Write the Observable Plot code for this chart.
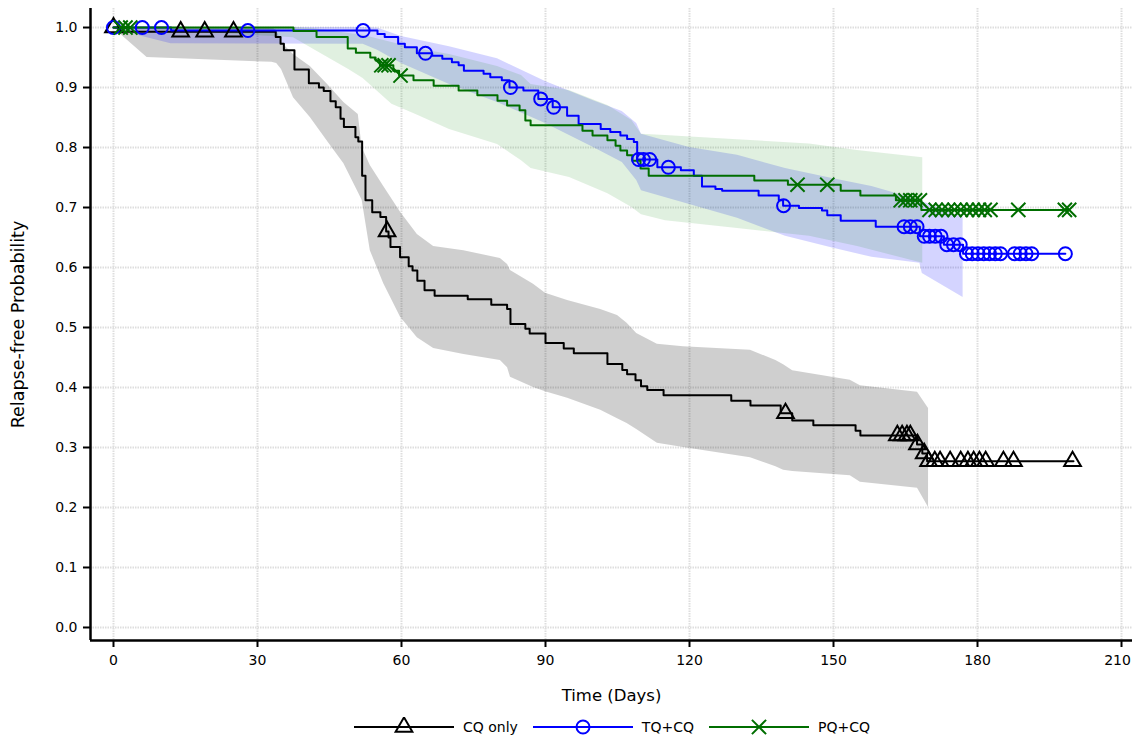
<!DOCTYPE html>
<html>
<head>
<meta charset="utf-8">
<script src="https://cdn.jsdelivr.net/npm/d3@7"></script>
<script src="https://cdn.jsdelivr.net/npm/@observablehq/plot@0.6"></script>
<style>
  body { margin: 0; background: #fff; font-family: "DejaVu Sans", sans-serif; overflow: hidden; }
  #chart { width: 1132px; height: 712px; }
  #legend { height: 30px; display: flex; align-items: center; padding-left: 354px; font-size: 14px; color: #000; }
  .item { display: flex; align-items: center; margin-right: 15px; }
  .item svg { margin-right: 9px; }
</style>
</head>
<body>
<div id="chart"></div>
<div id="legend"></div>
<script>
// ---- data ----
const groups = ["CQ only", "TQ+CQ", "PQ+CQ"];
const colors = ["#000000", "#0000ff", "#006e00"];
const bandColors = ["#000000", "#0000ff", "#008000"];
const bandOpacity = [0.19, 0.17, 0.12];
const symbols = ["triangle", "circle", "times"];

const xTicks = [0, 30, 60, 90, 120, 150, 180, 210];
const yTicks = [0, 0.1, 0.2, 0.3, 0.4, 0.5, 0.6, 0.7, 0.8, 0.9, 1.0];

// CQ only: step times and survival
const cqTimes = [0, 1, 33.8, 34.8, 35.5, 37.7, 40.7, 42.8, 43.8, 45.2, 46.3, 47.3, 48, 50.4, 51, 51.8, 52.5, 53.9, 55.6, 56.8, 57.3, 57.7, 59.7, 61.5, 62.3, 63.3, 64.8, 66.9, 73.8, 78.7, 82, 82.7, 85.8, 86.7, 90, 93.8, 95.9, 102.9, 106, 107, 108.75, 109.9, 111.2, 114.6, 128.7, 132.7, 139, 141.4, 145.8, 154.6, 155.6, 167.4, 168.5, 169.5, 200];
const cqSurv = [1, 0.993, 0.984, 0.973, 0.962, 0.93, 0.907, 0.9, 0.894, 0.877, 0.867, 0.848, 0.834, 0.817, 0.81, 0.753, 0.712, 0.692, 0.684, 0.66, 0.65, 0.634, 0.617, 0.602, 0.595, 0.578, 0.562, 0.553, 0.547, 0.538, 0.531, 0.506, 0.498, 0.49, 0.474, 0.465, 0.457, 0.439, 0.429, 0.422, 0.412, 0.402, 0.396, 0.387, 0.378, 0.37, 0.357, 0.345, 0.337, 0.328, 0.32, 0.305, 0.29, 0.277, 0.277];
const cqCensor = [0, 14, 19, 25, 57, 140, 163.3, 164.3, 165.3, 166, 167.5, 168.9, 169.8, 171.1, 172.2, 174.3, 176.5, 178, 179.2, 180.4, 181.7, 185.4, 187.5, 199.8];

// TQ+CQ
const tqTimes = [0, 12, 55, 56.5, 59.3, 60.7, 63.2, 66.4, 68.5, 70.5, 71.9, 73, 77.1, 78.5, 80.9, 82.5, 85.4, 88.5, 91.5, 94.5, 96.9, 101.5, 103.5, 105.6, 107, 108.4, 109.1, 113.3, 118.2, 120.9, 122.6, 125.4, 126.8, 134.4, 138.6, 139.5, 142.8, 147.6, 148.7, 151.5, 158.8, 168, 173, 177, 198.3];
const tqSurv = [1, 0.995, 0.989, 0.984, 0.973, 0.967, 0.957, 0.953, 0.948, 0.942, 0.937, 0.928, 0.923, 0.917, 0.912, 0.9, 0.895, 0.881, 0.867, 0.853, 0.839, 0.831, 0.826, 0.82, 0.814, 0.809, 0.78, 0.767, 0.762, 0.753, 0.735, 0.731, 0.728, 0.72, 0.712, 0.703, 0.699, 0.695, 0.687, 0.678, 0.668, 0.652, 0.638, 0.623, 0.623];
const tqCensor = [0, 6, 10, 28, 52, 65, 82.7, 89, 91.7, 109.4, 110.4, 111.7, 115.6, 139.6, 164.7, 166, 167.4, 168.9, 170, 171.2, 172.4, 173.6, 175, 176.4, 177.7, 178.9, 180.1, 181.3, 182.5, 183.7, 184.8, 187.7, 188.9, 190.1, 191.3, 198.3];

// PQ+CQ
const pqTimes = [0, 37.5, 42.3, 48.8, 50.5, 53.5, 54.6, 55.5, 58.3, 59.5, 62.5, 66.7, 71.9, 75.8, 80, 82, 84.6, 85.8, 86.9, 97.7, 99.8, 102.9, 104.6, 105.6, 107, 108.1, 109.8, 111.5, 133.5, 140.5, 151.5, 155.6, 163, 168.3, 199.1];
const pqSurv = [1, 0.994, 0.984, 0.965, 0.958, 0.95, 0.945, 0.937, 0.928, 0.92, 0.912, 0.903, 0.895, 0.887, 0.878, 0.87, 0.862, 0.845, 0.837, 0.828, 0.82, 0.812, 0.803, 0.795, 0.787, 0.778, 0.765, 0.753, 0.745, 0.738, 0.728, 0.72, 0.712, 0.696, 0.696];
const pqCensor = [1.5, 2.5, 3.5, 55.8, 56.5, 57.3, 59.8, 142.5, 148.7, 164, 165, 166, 167, 168, 170, 171.3, 172.6, 173.9, 175.2, 176.5, 177.8, 179, 180.3, 181.5, 182.7, 188.5, 198.2, 199.1];

// confidence bands
const cqBandDay = [0, 2, 7, 33, 34, 35, 37.5, 41, 44.6, 48, 51, 51.8, 53.5, 56.3, 59.8, 63.3, 66.7, 73, 80.6, 82.1, 82.7, 87.5, 90, 94.6, 101.5, 105, 107, 109, 113.3, 118.75, 132.7, 138, 139.6, 141.5, 153.5, 155.6, 167.5, 169.8];
const cqBandLo = [1, 0.985, 0.95, 0.942, 0.94, 0.93, 0.883, 0.85, 0.81, 0.773, 0.725, 0.712, 0.628, 0.573, 0.517, 0.483, 0.465, 0.455, 0.445, 0.433, 0.417, 0.4, 0.393, 0.382, 0.362, 0.348, 0.34, 0.33, 0.307, 0.3, 0.283, 0.268, 0.262, 0.26, 0.253, 0.242, 0.232, 0.2];
const cqBandHi = [1, 1, 1, 1, 0.995, 0.975, 0.955, 0.935, 0.905, 0.875, 0.855, 0.8, 0.77, 0.735, 0.692, 0.655, 0.635, 0.628, 0.615, 0.605, 0.595, 0.572, 0.557, 0.545, 0.53, 0.52, 0.507, 0.49, 0.472, 0.468, 0.462, 0.445, 0.438, 0.428, 0.412, 0.403, 0.392, 0.365];

const tqBandDay = [0, 6, 12, 52, 55, 60, 70, 80, 90, 100, 106, 109, 110, 120, 130, 140, 150, 158, 168, 168.5, 177];
const tqBandLo = [1, 0.985, 0.973, 0.972, 0.962, 0.94, 0.905, 0.875, 0.84, 0.8, 0.775, 0.745, 0.728, 0.705, 0.682, 0.652, 0.632, 0.617, 0.607, 0.59, 0.55];
const tqBandHi = [1, 1, 1, 1, 0.999, 0.985, 0.968, 0.948, 0.91, 0.878, 0.86, 0.84, 0.822, 0.8, 0.787, 0.765, 0.748, 0.735, 0.712, 0.71, 0.683];

const pqBandDay = [0, 37.5, 42, 49, 52, 55.5, 58, 63, 70, 80, 85, 87, 95, 103, 108, 110, 115, 130, 145, 155, 168.6];
const pqBandLo = [1, 0.983, 0.962, 0.93, 0.915, 0.89, 0.872, 0.855, 0.83, 0.805, 0.778, 0.765, 0.75, 0.723, 0.7, 0.688, 0.678, 0.665, 0.652, 0.635, 0.607];
const pqBandHi = [1, 1, 0.998, 0.99, 0.987, 0.98, 0.975, 0.965, 0.955, 0.935, 0.92, 0.905, 0.895, 0.87, 0.845, 0.822, 0.82, 0.813, 0.806, 0.795, 0.783];

// ---- build tables ----
const stepSets = [[cqTimes, cqSurv], [tqTimes, tqSurv], [pqTimes, pqSurv]];
const censorSets = [cqCensor, tqCensor, pqCensor];
const bandSets = [[cqBandDay, cqBandLo, cqBandHi], [tqBandDay, tqBandLo, tqBandHi], [pqBandDay, pqBandLo, pqBandHi]];

function survAt(times, surv, t) {
  const i = d3.bisectRight(times, t) - 1;
  return surv[Math.max(0, i)];
}

const xDomain = [-4.79, 212.29];
const yDomain = [-0.0217, 1.0317];

const gridStyle = {stroke: "#dedede", strokeOpacity: 1, strokeWidth: 2, strokeDasharray: "1.5,1"};
const marks = [
  Plot.gridX(xTicks, gridStyle),
  Plot.gridY(yTicks, gridStyle)
];
bandSets.forEach(([d, lo, hi], g) => {
  const rows = d.map((t, i) => ({day: t, lo: lo[i], hi: hi[i]}));
  marks.push(Plot.areaY(rows, {x: "day", y1: "lo", y2: "hi", fill: bandColors[g], fillOpacity: bandOpacity[g], curve: "linear"}));
});
stepSets.forEach(([t, s], g) => {
  const rows = t.map((v, i) => ({day: v, s: s[i]}));
  marks.push(Plot.line(rows, {x: "day", y: "s", stroke: colors[g], strokeWidth: 2, curve: "step-after"}));
});
censorSets.forEach((c, g) => {
  const [t, s] = stepSets[g];
  const rows = c.map(v => ({day: v, s: survAt(t, s, v)}));
  marks.push(Plot.dot(rows, {x: "day", y: "s", symbol: symbols[g], r: g === 0 ? 6.2 : 6.5, stroke: colors[g], strokeWidth: 2, fill: "none"}));
});
marks.push(
  Plot.ruleX([xDomain[0]], {stroke: "black", strokeWidth: 2.5}),
  Plot.ruleY([yDomain[0]], {stroke: "black", strokeWidth: 2.5}),
  Plot.axisX(xTicks, {tickSize: 7, tickPadding: 8, strokeWidth: 2, label: "Time (Days)", labelAnchor: "center", labelArrow: "none", labelOffset: 60}),
  Plot.axisY(yTicks, {tickSize: 7, tickPadding: 6, strokeWidth: 2, tickFormat: d3.format(".1f"), label: "Relapse-free Probability", labelAnchor: "center", labelArrow: "none", labelOffset: 79})
);

const chart = Plot.plot({
  width: 1132,
  height: 712,
  marginLeft: 90,
  marginRight: 0,
  marginTop: 8,
  marginBottom: 72,
  style: {fontFamily: "DejaVu Sans", fontSize: "14px", background: "white", color: "black"},
  x: {domain: xDomain},
  y: {domain: yDomain},
  marks
});
document.getElementById("chart").appendChild(chart);
d3.select(chart).selectAll('g[aria-label="x-axis label"] text').style("font-size", "16.5px");
d3.select(chart).selectAll('g[aria-label="y-axis label"] text').style("font-size", "17.5px");
// keep the last x tick label ("210") inside the page edge
const xTickTexts = d3.select(chart).selectAll('g[aria-label="x-axis tick label"] text').nodes();
if (xTickTexts.length) d3.select(xTickTexts[xTickTexts.length - 1]).attr("dx", -4);

// ---- legend ----
const legend = d3.select("#legend");
groups.forEach((name, g) => {
  const item = legend.append("div").attr("class", "item");
  const svg = item.append("svg").attr("width", 100).attr("height", 20);
  svg.append("line").attr("x1", 0).attr("x2", 100).attr("y1", 10).attr("y2", 10).attr("stroke", colors[g]).attr("stroke-width", 2);
  const sym = {triangle: d3.symbolTriangle, circle: d3.symbolCircle, times: d3.symbolTimes}[symbols[g]];
  const r = g === 0 ? 6.2 : 6.5;
  svg.append("path").attr("transform", "translate(50,10)").attr("d", d3.symbol(sym, Math.PI * r * r)())
    .attr("fill", "none").attr("stroke", colors[g]).attr("stroke-width", 2);
  item.append("span").text(name);
});
</script>
</body>
</html>
